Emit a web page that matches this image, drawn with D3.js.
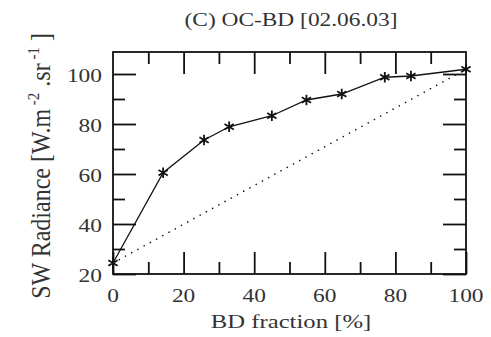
<!DOCTYPE html>
<html>
<head>
<meta charset="utf-8">
<script src="https://cdn.jsdelivr.net/npm/d3@7"></script>
<style>
  body { margin: 0; background: #fff; }
</style>
</head>
<body>
<div id="chart"></div>
<script>
// BD fraction [%] and SW radiance
var fraction = [0, 14.2, 25.8, 32.9, 45, 54.8, 64.8, 77, 84.4, 100];
var radiance = [24.4, 60.5, 73.6, 78.9, 83.3, 89.6, 92, 98.7, 99.2, 101.9];
var linearEnds = [[0, 24.4], [100, 101.9]];
var xTicks = [0, 20, 40, 60, 80, 100];
var yTicks = [20, 40, 60, 80, 100];

var width = 491, height = 337;
var margin = {top: 52, right: 25, bottom: 63, left: 113};
var font = "'Liberation Serif', 'Times New Roman', serif";
var stretch = 1.3; // reference text is drawn wide

var svg = d3.select("#chart").append("svg")
    .attr("width", width)
    .attr("height", height);

var w = width - margin.left - margin.right,
    h = height - margin.top - margin.bottom;

var g = svg.append("g").attr("transform", "translate(" + margin.left + "," + margin.top + ")");

var x = d3.scaleLinear().domain([0, 100]).range([0, w]);
var y = d3.scaleLinear().domain([20, 108.8]).range([h, 0]);

// major + minor ticks on all four sides
var minorX = d3.range(10, 100, 20), minorY = d3.range(30, 101, 20);

function ticks(axisFn, vals, size) {
    return axisFn.tickValues(vals).tickSize(size).tickSizeOuter(0).tickFormat("");
}

g.append("g").attr("transform", "translate(0," + h + ")")
    .call(ticks(d3.axisTop(x), xTicks, 22));
g.append("g").attr("transform", "translate(0," + h + ")")
    .call(ticks(d3.axisTop(x), minorX, 12));
g.append("g").call(ticks(d3.axisBottom(x), xTicks.slice(1, -1), 22));
g.append("g").call(ticks(d3.axisBottom(x), minorX, 12));
g.append("g").call(ticks(d3.axisRight(y), yTicks, 23));
g.append("g").call(ticks(d3.axisRight(y), minorY, 12));
g.append("g").attr("transform", "translate(" + w + ",0)")
    .call(ticks(d3.axisLeft(y), yTicks, 23));
g.append("g").attr("transform", "translate(" + w + ",0)")
    .call(ticks(d3.axisLeft(y), minorY, 12));

g.selectAll(".domain").remove();
g.selectAll(".tick line").attr("stroke", "#111").attr("stroke-width", 1.8);

g.append("rect").attr("width", w).attr("height", h)
    .attr("fill", "none").attr("stroke", "#111").attr("stroke-width", 1.8);

function label(sel, px, py, anchor, size) {
    return sel.append("text")
        .attr("transform", "translate(" + px + "," + py + ") scale(" + stretch + ",1)")
        .attr("text-anchor", anchor)
        .attr("font-family", font)
        .attr("font-size", size)
        .attr("fill", "#333");
}

// tick labels
xTicks.forEach(function(d) {
    label(g, x(d), h + 28, "middle", 18).text(d);
});
yTicks.forEach(function(d) {
    label(g, -11, y(d) + 8, "end", 18).text(d);
});

// dotted reference line
g.append("path")
    .datum(linearEnds)
    .attr("fill", "none")
    .attr("stroke", "#111")
    .attr("stroke-width", 1.6)
    .attr("stroke-linecap", "round")
    .attr("stroke-dasharray", "0.1 7")
    .attr("d", d3.line().x(function(d) { return x(d[0]); }).y(function(d) { return y(d[1]); }));

var pts = fraction.map(function(f, i) { return [f, radiance[i]]; });

g.append("path")
    .datum(pts)
    .attr("fill", "none")
    .attr("stroke", "#111")
    .attr("stroke-width", 1.3)
    .attr("d", d3.line().x(function(d) { return x(d[0]); }).y(function(d) { return y(d[1]); }));

// star markers
var star = d3.symbol().type(d3.symbolAsterisk).size(80);
g.selectAll(".pt").data(pts).enter().append("path")
    .attr("transform", function(d) { return "translate(" + x(d[0]) + "," + y(d[1]) + ")"; })
    .attr("d", star)
    .attr("fill", "none")
    .attr("stroke", "#111")
    .attr("stroke-width", 1.8);

// title and axis labels
label(svg, 291, 26, "middle", 18).text("(C) OC-BD [02.06.03]");
label(svg, 291, 328, "middle", 19).text("BD fraction [%]");

var yl = svg.append("text")
    .attr("transform", "translate(50,166) rotate(-90) scale(1,1.15)")
    .attr("text-anchor", "middle")
    .attr("font-family", font)
    .attr("fill", "#333")
    .attr("font-size", 24);
yl.append("tspan").text("SW Radiance [W.m");
yl.append("tspan").attr("dy", -10).attr("font-size", 15).text(" -2");
yl.append("tspan").attr("dy", 10).text(" .sr");
yl.append("tspan").attr("dy", -10).attr("font-size", 15).text(" -1");
yl.append("tspan").attr("dy", 10).text(" ]");
</script>
</body>
</html>
